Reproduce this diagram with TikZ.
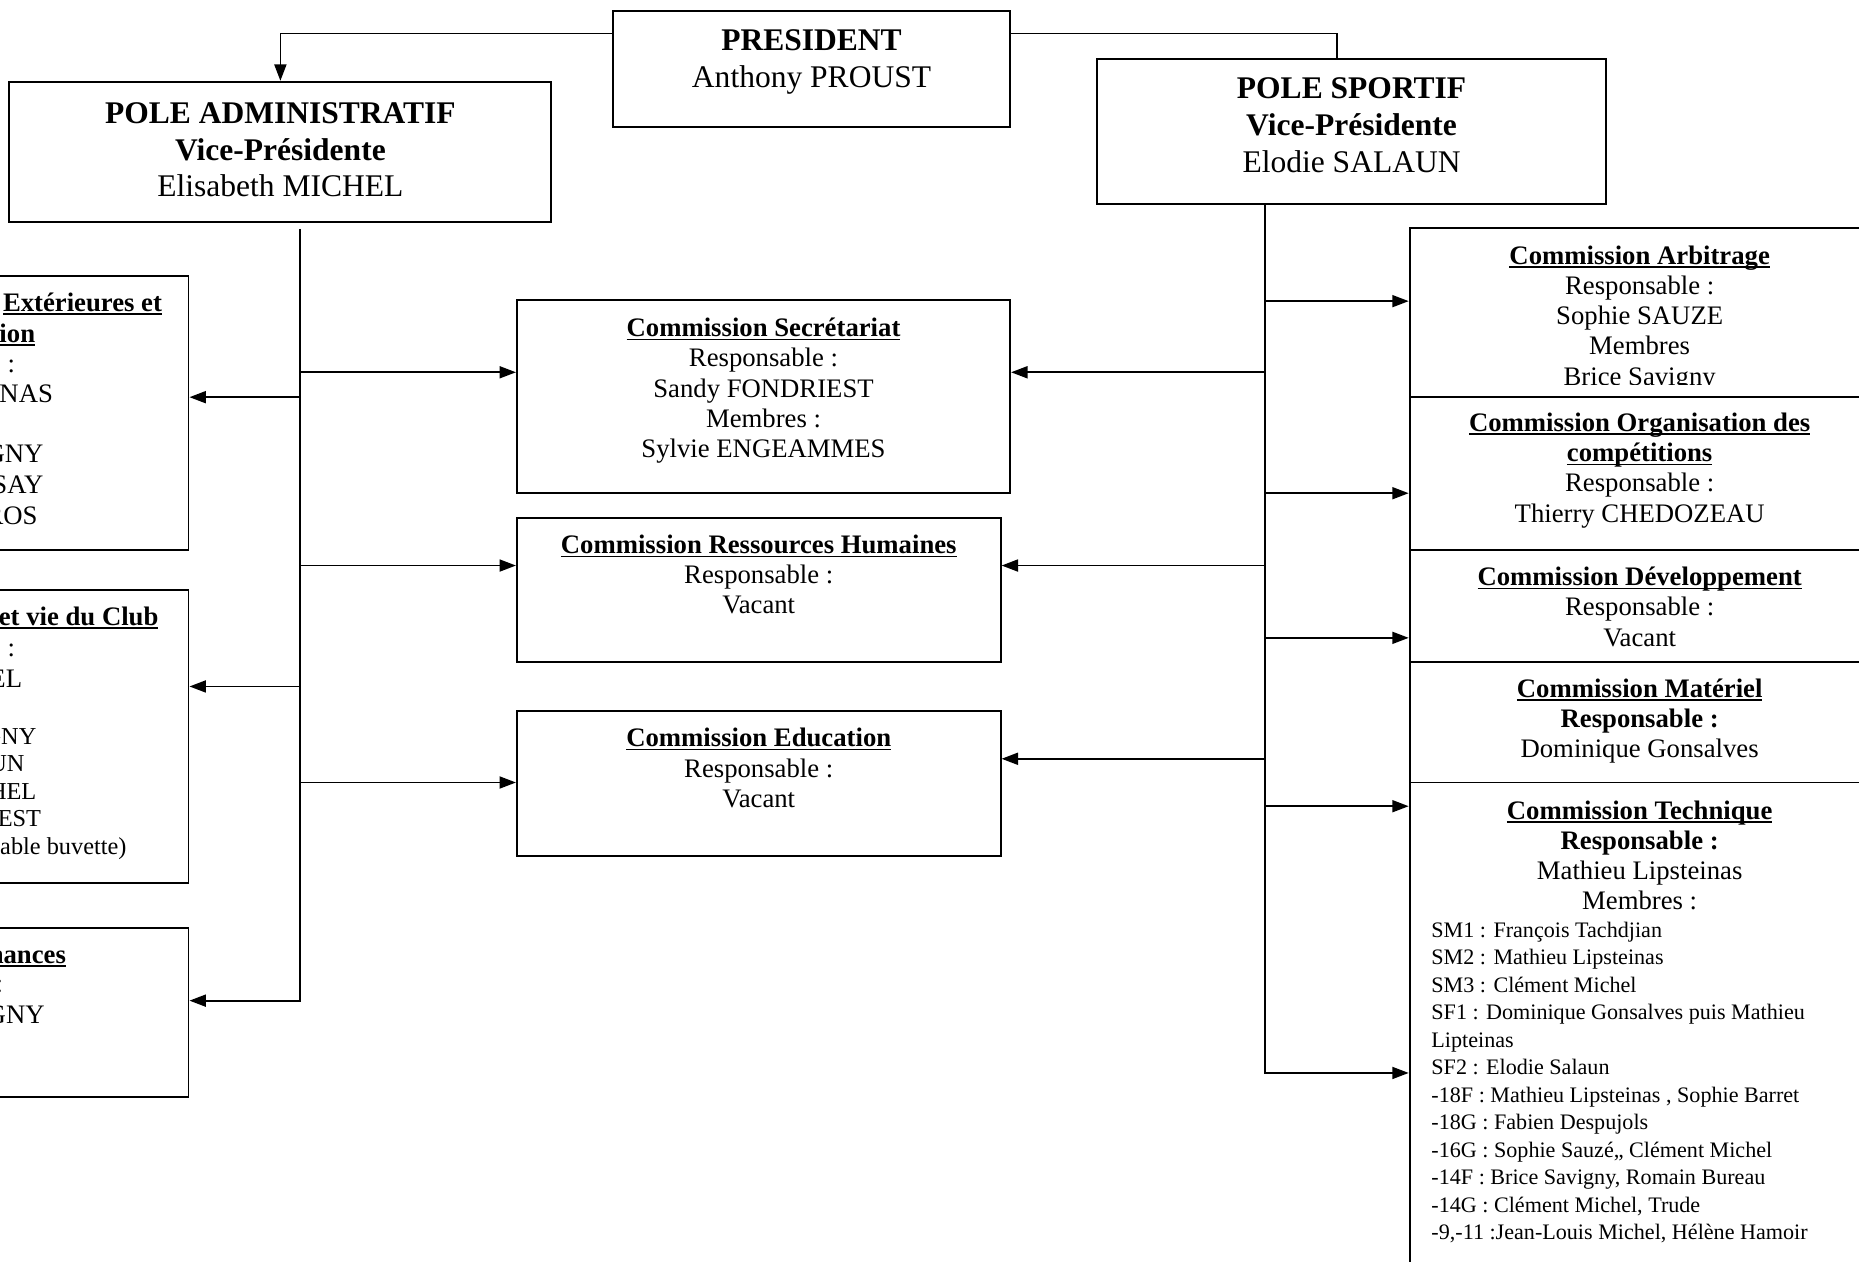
\documentclass[tikz,border=0pt]{standalone}
\usepackage{fontspec}
\setmainfont{Liberation Serif}
\usetikzlibrary{arrows.meta,fit,calc}
\newcommand{\ulText}[1]{\setbox0=\hbox{#1}\rlap{\rule[-1.6pt]{\wd0}{0.7pt}}\box0}

\begin{document}
\begin{tikzpicture}
[x=0.5415pt, y=-0.5415pt,
  boxDecorate/.style={draw, line width=0.9pt, fill=white, inner sep=0pt},
  lineDecorate/.style={-, line width=0.8pt},
  arrowDecorate/.style={-{Triangle[length=7.5pt,width=5.5pt]}, line width=0.8pt},
  textDecorate/.style={anchor=north, align=center, inner sep=0pt,
    font=\fontsize{12.2}{13.8}\selectfont},
  titleDecorate/.style={textDecorate, font=\fontsize{14.4}{16.8}\selectfont},
  listDecorate/.style={anchor=north west, align=left, inner sep=0pt,
    font=\fontsize{10.1}{12.56}\selectfont},
  cutDecorate/.style={anchor=base east, inner sep=0pt,
    font=\fontsize{12.2}{13.8}\selectfont},
  cutSmallDecorate/.style={cutDecorate, font=\fontsize{11.1}{12.56}\selectfont}]
\path[use as bounding box, fill=white] (0,0) rectangle (1568,1064);
%% boxes
\foreach \boxname/\xa/\ya/\xb/\yb in {
  pres/517/9/852/107,
  admin/8/69/465/187,
  sport/925/50/1355/172,
  ext/-230/233/159/464,
  vie/-230/498/159/745,
  fin/-230/783/159/925,
  secr/436/253/852/416,
  rh/436/437/844/558,
  edu/436/600/844/722,
  arb/1189/192/1577/335,
  orga/1189/335/1577/464,
  dev/1189/464/1577/558,
  mat/1189/558/1577/660,
  tech/1189/660/1577/1100}
{
  \node (\boxname) [boxDecorate, fit={(\xa,\ya) (\xb,\yb)}] {};
}
%% texts
\node (presText) [titleDecorate] at (684.5,20.3)
  {\strut\textbf{PRESIDENT}\\Anthony PROUST};
\node (adminText) [titleDecorate] at (236.5,82)
  {\strut\textbf{POLE ADMINISTRATIF}\\\textbf{Vice-Présidente}\\Elisabeth MICHEL};
\node (sportText) [titleDecorate] at (1140,61)
  {\strut\textbf{POLE SPORTIF}\\\textbf{Vice-Présidente}\\Elodie SALAUN};
\node (secrText) [textDecorate] at (644,265.7)
  {\strut\ulText{\textbf{Commission Secrétariat}}\\Responsable :\\Sandy FONDRIEST\\Membres :\\Sylvie ENGEAMMES};
\node (rhText) [textDecorate] at (640,448.7)
  {\strut\ulText{\textbf{Commission Ressources Humaines}}\\Responsable :\\Vacant};
\node (eduText) [textDecorate] at (640,611.7)
  {\strut\ulText{\textbf{Commission Education}}\\Responsable :\\Vacant};
\begin{scope}
  \clip (1189,192) rectangle (1577,324);
  \node (arbText) [textDecorate] at (1383,204.7)
    {\strut\ulText{\textbf{Commission Arbitrage}}\\Responsable :\\Sophie SAUZE\\Membres\\Brice Savigny};
\end{scope}
\node (orgaText) [textDecorate] at (1383,345.7)
  {\strut\ulText{\textbf{Commission Organisation des}}\\\ulText{\textbf{compétitions}}\\Responsable :\\Thierry CHEDOZEAU};
\node (devText) [textDecorate] at (1383,475.7)
  {\strut\ulText{\textbf{Commission Développement}}\\Responsable :\\Vacant};
\node (matText) [textDecorate] at (1383,569.7)
  {\strut\ulText{\textbf{Commission Matériel}}\\\textbf{Responsable :}\\Dominique Gonsalves};
\node (techText) [textDecorate] at (1383,672.7)
  {\strut\ulText{\textbf{Commission Technique}}\\\textbf{Responsable :}\\Mathieu Lipsteinas\\Membres :};
\node (techList) [listDecorate] at (1207,774)
  {\strut SM1 : François Tachdjian\\SM2 : Mathieu Lipsteinas\\SM3 : Clément Michel\\
   SF1 : Dominique Gonsalves puis Mathieu\\Lipteinas\\SF2 : Elodie Salaun\\
   -18F : Mathieu Lipsteinas , Sophie Barret\\-18G : Fabien Despujols\\
   -16G : Sophie Sauzé,, Clément Michel\\-14F : Brice Savigny, Romain Bureau\\
   -14G : Clément Michel, Trude\\-9,-11 :Jean-Louis Michel, Hélène Hamoir};
%% texts cut by the left edge
\node (ext1) [cutDecorate] at (137,262.5) {\ulText{\textbf{Extérieures et}}};
\node (ext2) [cutDecorate] at (30,288.5) {\ulText{\textbf{ion}}};
\foreach \txt/\xx/\yy [count=\i from 3] in {e :/13/314.5, INAS/45/339.5,
  GNY/37/390.5, SAY/37/416.5, ROS/32/442.5}
{
  \node (ext\i) [cutDecorate] at (\xx,\yy) {\txt};
}
\node (vie1) [cutDecorate] at (134,527.5) {\ulText{\textbf{et vie du Club}}};
\node (vie2) [cutDecorate] at (13,553.5) {e :};
\node (vie3) [cutDecorate] at (19,579.5) {EL};
\foreach \txt/\xx/\yy [count=\i from 4] in {GNY/31/628, UN/21/651,
  HEL/31/674, EST/35/697, sable buvette)/107/721}
{
  \node (vie\i) [cutSmallDecorate] at (\xx,\yy) {\txt};
}
\node (fin1) [cutDecorate] at (56,812.5) {\ulText{\textbf{nances}}};
\node (fin2) [cutDecorate] at (3,837.5) {:};
\node (fin3) [cutDecorate] at (38,863.5) {GNY};
%% links from the president
\draw[arrowDecorate] (pres.north west) ++(0,20) -| (admin.north);
\draw[lineDecorate] (pres.north east) ++(0,20) -| ($(sport.north)+(-12,0)$);
%% administrative branch
\coordinate (adminTop) at (253,193);
\coordinate (adminEnd) at (253,844);
\draw[arrowDecorate] (adminTop) -- (adminEnd) -- (fin.east |- adminEnd);
\foreach \target/\yy in {ext/335, vie/579}
  \draw[arrowDecorate] (adminTop |- 0,\yy) -- (\target.east |- 0,\yy);
\foreach \target/\yy in {secr/314, rh/477, edu/660}
  \draw[arrowDecorate] (adminTop |- 0,\yy) -- (\target.west |- 0,\yy);
%% sport branch
\coordinate (sportTop) at (1067,172);
\coordinate (sportEnd) at (1067,905);
\draw[arrowDecorate] (sportTop) -- (sportEnd) -- (tech.west |- sportEnd);
\foreach \target/\yy in {secr/314, rh/477, edu/640}
  \draw[arrowDecorate] (sportTop |- 0,\yy) -- (\target.east |- 0,\yy);
\foreach \target/\yy in {arb/254, orga/416, dev/538, tech/680}
  \draw[arrowDecorate] (sportTop |- 0,\yy) -- (\target.west |- 0,\yy);
\end{tikzpicture}
\end{document}
